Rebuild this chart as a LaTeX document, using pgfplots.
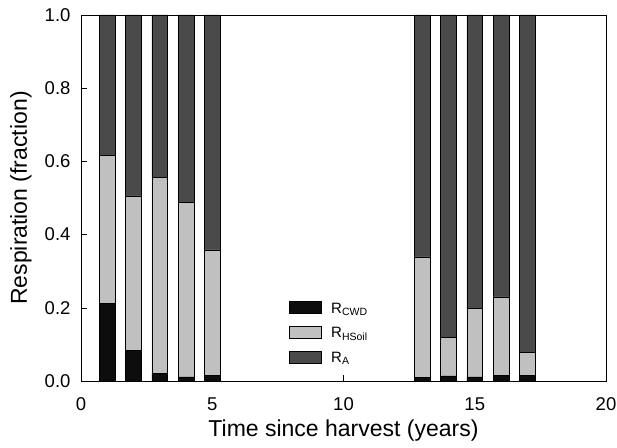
\documentclass[border=0pt]{standalone}
\usepackage{fontspec}
\setmainfont{Liberation Sans}
\usepackage{pgfplots}
\pgfplotsset{compat=1.18}

\definecolor{cwd}{HTML}{0D0D0D}
\definecolor{hsoil}{HTML}{C0C0C0}
\definecolor{ra}{HTML}{4A4A4A}

\pgfplotstableread{
year cwd  hsoil ra
1    0.212 0.405 0.383
2    0.084 0.422 0.494
3    0.021 0.535 0.444
4    0.011 0.476 0.513
5    0.015 0.343 0.642
13   0.009 0.330 0.661
14   0.014 0.105 0.881
15   0.011 0.187 0.802
16   0.016 0.214 0.770
17   0.016 0.062 0.922
}\resp

\begin{document}
\begin{tikzpicture}
\begin{axis}[
  scale only axis, width=525pt, height=366pt,
  ybar stacked, bar width=0.6,
  xmin=0, xmax=20, ymin=0, ymax=1,
  xtick={0,5,10,15,20}, ytick={0,0.2,...,1.0},
  tick align=inside, major tick length=6pt,
  tick style={black, thin},
  xtick pos=bottom, ytick pos=left,
  axis line style={black, thin},
  /pgf/number format/assume math mode=true,
  yticklabel style={xshift=-7pt, /pgf/number format/.cd, fixed, fixed zerofill, precision=1},
  xticklabel style={yshift=-13pt},
  ticklabel style={font=\fontsize{18.5}{21}\selectfont},
  xlabel={Time since harvest (years)},
  ylabel={Respiration (fraction)},
  every axis x label/.style={at={(rel axis cs:0.5,0)}, yshift=-50pt, anchor=center,
    font=\fontsize{23}{27}\selectfont},
  every axis y label/.style={at={(rel axis cs:0,0.5)}, xshift=-60pt, rotate=90, anchor=center,
    font=\fontsize{23}{27}\selectfont},
  every axis plot/.append style={draw=black, line width=0.6pt},
  legend style={draw=none, fill=none, at={(axis cs:7.9,0.22)}, anchor=north west,
    font=\fontsize{15}{17}\selectfont, row sep=9pt, inner sep=0pt,
    /tikz/every odd column/.append style={column sep=8pt}},
  legend cell align=left,
  legend image code/.code={\draw[#1, line width=0.6pt] (0pt,-5pt) rectangle (32pt,7pt);},
]
\addplot[fill=cwd] table[x=year, y=cwd] {\resp};
\addplot[fill=hsoil] table[x=year, y=hsoil] {\resp};
\addplot[fill=ra] table[x=year, y=ra] {\resp};
\legend{R\textsubscript{CWD}, R\textsubscript{HSoil}, R\textsubscript{A}}
\end{axis}
\pgfresetboundingbox
\path ([xshift=-81pt,yshift=-66pt]current axis.south west) rectangle ([xshift=11pt,yshift=15pt]current axis.north east);
\end{tikzpicture}
\end{document}
